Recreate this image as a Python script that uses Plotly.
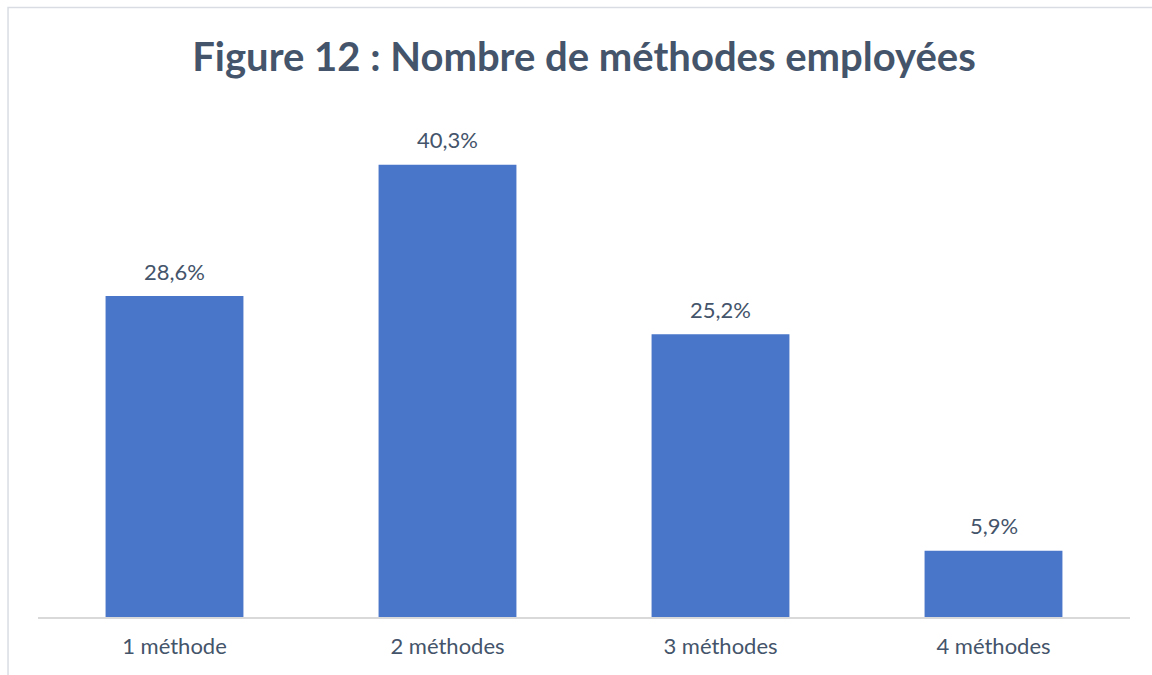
import plotly.graph_objects as go

categories = ["1 méthode", "2 méthodes", "3 méthodes", "4 méthodes"]
values = [28.6, 40.3, 25.2, 5.9]
value_labels = ["28,6%", "40,3%", "25,2%", "5,9%"]

TEXT = "#44546A"
FONT = "Lato"

fig = go.Figure()
fig.add_trace(go.Bar(
    x=categories, y=values,
    marker=dict(color="#4A76C9", line=dict(width=0)),
    hoverinfo="skip",
))

for c, v, t in zip(categories, values, value_labels):
    fig.add_annotation(x=c, y=v, text=t, showarrow=False, yshift=25,
                       font=dict(family=FONT, size=22, color=TEXT))

fig.update_layout(
    width=1152, height=675,
    margin=dict(l=37.5, r=21.5, t=112, b=58),
    paper_bgcolor="white", plot_bgcolor="white",
    bargap=0.495,
    showlegend=False,
    title=dict(text="<b>Figure 12 : Nombre de méthodes employées</b>",
               x=0.5, xref="paper", xanchor="center",
               y=1 - 57 / 675, yref="container", yanchor="middle",
               font=dict(family=FONT, size=40, color=TEXT)),
    xaxis=dict(showline=True, linecolor="#D9D9D9", linewidth=1.5,
               ticks="outside", ticklen=9, tickcolor="rgba(0,0,0,0)",
               tickfont=dict(family=FONT, size=22, color=TEXT),
               showgrid=False, zeroline=False),
    yaxis=dict(range=[0, 45], visible=False, showgrid=False, zeroline=False),
    shapes=[dict(type="rect", xref="paper", yref="paper",
                 x0=(7.5 - 37.5) / 1093, x1=(1160 - 37.5) / 1093,
                 y0=(617 - 685) / 505, y1=(617 - 7.5) / 505,
                 line=dict(color="#D9DDE3", width=1.5), layer="below")],
)

fig.write_html("out.html", config={"displayModeBar": False},
               post_script="document.body.style.margin='0';document.body.style.overflow='hidden';")
